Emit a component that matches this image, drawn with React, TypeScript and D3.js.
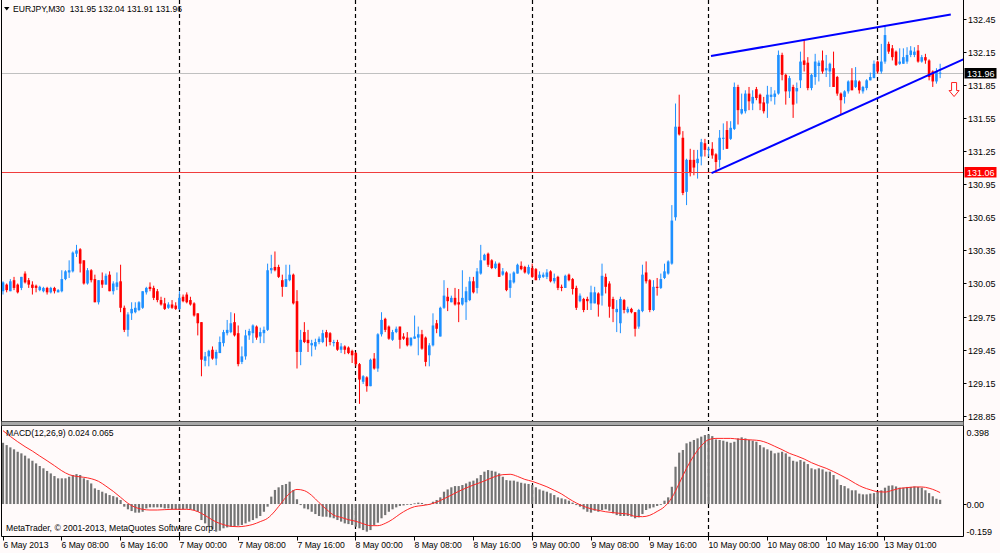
import React from "react";
import * as d3 from "d3";

type OHLC = [number, number, number, number];

// ---- price data (open, high, low, close), EURJPY M30 ----
const candles6May: OHLC[] = [
  [129.98,130.07,129.95,130.06],[130.04,130.05,129.97,129.99],[129.98,130.09,129.98,130.07],[130.08,130.11,129.99,130.01],
  [130.04,130.05,129.96,129.97],[130.01,130.11,129.99,130.11],[130.14,130.16,130.05,130.06],[130.08,130.10,130.01,130.04],
  [130.04,130.07,129.95,130.01],[130.03,130.04,129.97,130.01],[129.99,130.03,129.98,130.02],[129.98,130.02,129.97,130.01],
  [130.01,130.02,129.95,129.97],[129.97,130.02,129.96,130.01],[130.01,130.02,129.96,129.98],[129.97,130.00,129.97,129.99],
  [129.98,130.17,129.97,130.09],[130.09,130.17,130.08,130.16],[130.15,130.26,130.10,130.17],[130.16,130.34,130.15,130.33],
  [130.32,130.40,130.29,130.35],[130.36,130.37,130.15,130.23],[130.26,130.26,130.04,130.05],[130.05,130.19,130.04,130.17],
  [130.17,130.18,130.06,130.08],[130.09,130.13,129.88,129.88],[129.88,130.08,129.86,130.08],[130.08,130.15,130.01,130.04],
  [130.04,130.14,130.04,130.12],[130.13,130.16,129.98,129.98],[129.98,130.07,129.95,130.05],[130.02,130.15,129.99,130.06],
  [130.07,130.22,129.79,129.83],[129.83,129.85,129.61,129.63],[129.63,129.79,129.57,129.77],[129.78,129.88,129.72,129.82],
  [129.79,129.88,129.78,129.83],[129.81,129.89,129.80,129.88],[129.83,129.98,129.82,129.98],[129.97,130.02,129.95,130.01],
  [130.02,130.06,129.98,130.00],[130.01,130.03,129.90,129.92],[129.98,130.00,129.88,129.90],[129.90,129.93,129.85,129.86],
  [129.87,129.92,129.81,129.82],[129.83,129.88,129.82,129.86],[129.86,129.90,129.82,129.83],[129.85,129.88,129.81,129.82],
];
const candles7May: OHLC[] = [
  [129.82,129.98,129.81,129.92],[129.93,129.95,129.88,129.89],[129.95,129.97,129.87,129.88],[129.90,129.93,129.85,129.86],
  [129.87,129.88,129.75,129.76],[129.78,129.78,129.58,129.69],[129.70,129.70,129.21,129.36],[129.35,129.43,129.30,129.39],
  [129.39,129.45,129.30,129.44],[129.45,129.48,129.36,129.37],[129.37,129.45,129.31,129.43],[129.42,129.57,129.42,129.52],
  [129.51,129.63,129.48,129.61],[129.60,129.72,129.58,129.63],[129.61,129.79,129.60,129.69],[129.70,129.78,129.57,129.58],
  [129.60,129.67,129.30,129.32],[129.34,129.48,129.32,129.39],[129.39,129.63,129.36,129.58],[129.58,129.64,129.54,129.62],
  [129.60,129.68,129.51,129.67],[129.66,129.67,129.54,129.56],[129.57,129.65,129.51,129.61],[129.60,129.66,129.51,129.63],
  [129.63,130.23,129.62,130.17],[130.17,130.31,130.14,130.19],[130.20,130.34,130.16,130.17],[130.20,130.22,130.10,130.11],
  [130.08,130.13,129.93,130.02],[130.02,130.22,130.02,130.09],[130.08,130.22,130.07,130.13],[130.13,130.14,129.86,129.87],
  [129.89,129.99,129.28,129.43],[129.43,129.63,129.31,129.54],[129.61,129.70,129.51,129.52],[129.54,129.63,129.43,129.51],
  [129.49,129.54,129.39,129.51],[129.48,129.55,129.45,129.52],[129.52,129.57,129.50,129.55],[129.52,129.63,129.51,129.60],
  [129.61,129.63,129.48,129.56],[129.60,129.61,129.49,129.52],[129.51,129.54,129.48,129.52],[129.52,129.54,129.44,129.45],
  [129.45,129.51,129.42,129.48],[129.48,129.49,129.41,129.45],[129.47,129.48,129.41,129.42],[129.44,129.45,129.33,129.40],
];
const candles8May: OHLC[] = [
  [129.42,129.43,129.30,129.32],[129.32,129.33,128.96,129.18],[129.16,129.22,129.14,129.21],[129.20,129.21,129.07,129.12],
  [129.12,129.37,129.12,129.36],[129.37,129.42,129.27,129.28],[129.28,129.60,129.25,129.59],[129.59,129.79,129.57,129.72],
  [129.73,129.74,129.61,129.63],[129.66,129.67,129.54,129.55],[129.54,129.63,129.53,129.61],[129.61,129.66,129.60,129.64],
  [129.66,129.66,129.46,129.54],[129.57,129.60,129.54,129.55],[129.56,129.61,129.48,129.49],[129.49,129.56,129.48,129.56],
  [129.55,129.76,129.55,129.57],[129.56,129.66,129.40,129.59],[129.59,129.63,129.45,129.46],[129.56,129.57,129.30,129.34],
  [129.40,129.51,129.30,129.49],[129.49,129.78,129.48,129.67],[129.69,129.72,129.60,129.64],[129.57,129.84,129.57,129.83],
  [129.83,130.08,129.82,129.94],[129.93,130.01,129.80,129.89],[129.88,129.94,129.88,129.92],[129.92,130.01,129.85,129.86],
  [129.88,130.00,129.70,129.86],[129.86,130.17,129.85,129.92],[129.88,130.02,129.72,129.98],[129.90,130.11,129.89,130.07],
  [130.07,130.11,129.96,129.97],[130.01,130.19,129.96,130.16],[130.14,130.40,130.13,130.26],[130.26,130.32,130.26,130.31],
  [130.32,130.33,130.20,130.22],[130.26,130.27,130.18,130.19],[130.19,130.25,130.18,130.23],[130.23,130.24,130.11,130.11],
  [130.13,130.19,130.12,130.16],[130.15,130.16,129.98,129.99],[130.01,130.14,129.92,130.08],[130.06,130.16,130.05,130.15],
  [130.14,130.23,130.14,130.22],[130.21,130.25,130.17,130.18],[130.20,130.21,130.14,130.15],[130.14,130.22,130.13,130.20],
];
const candles9May: OHLC[] = [
  [130.19,130.23,130.10,130.11],[130.18,130.19,130.08,130.08],[130.10,130.16,130.08,130.13],[130.11,130.15,130.10,130.13],
  [130.11,130.18,130.09,130.15],[130.16,130.17,130.06,130.07],[130.07,130.14,130.05,130.10],[130.11,130.12,129.99,130.01],
  [130.02,130.04,129.98,130.01],[130.01,130.13,130.01,130.12],[130.13,130.14,130.07,130.08],[130.09,130.10,129.95,130.00],
  [130.01,130.03,129.81,129.83],[129.89,129.96,129.88,129.94],[129.91,129.92,129.79,129.81],[129.91,129.93,129.81,129.89],
  [129.87,130.03,129.81,129.97],[129.87,130.02,129.87,129.97],[129.96,129.97,129.75,129.86],[129.94,130.23,129.85,130.12],
  [130.11,130.14,129.96,130.02],[130.05,130.07,129.74,129.84],[129.91,129.93,129.70,129.82],[129.79,129.90,129.61,129.82],
  [129.69,129.93,129.60,129.91],[129.90,129.91,129.78,129.81],[129.79,129.84,129.78,129.82],[129.82,129.83,129.78,129.79],
  [129.79,129.79,129.57,129.64],[129.66,129.82,129.64,129.81],[129.80,130.22,129.79,130.13],[130.15,130.25,130.05,130.07],
  [130.08,130.09,129.79,129.81],[129.81,130.08,129.80,130.02],[130.02,130.10,129.94,130.01],[130.01,130.14,130.00,130.09],
  [130.10,130.23,130.09,130.16],[130.14,130.26,130.13,130.25],[130.23,130.76,130.22,130.62],[130.65,131.68,130.62,131.47],
  [131.47,131.76,131.39,131.40],[131.37,131.43,130.85,130.87],[130.88,131.18,130.76,131.17],[131.17,131.27,131.02,131.05],
  [131.17,131.26,131.03,131.10],[131.14,131.26,131.00,131.18],[131.20,131.36,131.12,131.33],[131.32,131.36,131.20,131.26],
];
const candles10May: OHLC[] = [
  [131.26,131.29,131.20,131.27],[131.27,131.33,131.18,131.21],[131.22,131.23,131.05,131.15],[131.17,131.44,131.10,131.37],
  [131.36,131.50,131.26,131.37],[131.44,131.52,131.27,131.27],[131.36,131.52,131.35,131.46],[131.45,131.87,131.44,131.83],
  [131.83,131.85,131.49,131.62],[131.59,131.77,131.58,131.63],[131.61,131.80,131.59,131.77],[131.77,131.83,131.62,131.70],
  [131.68,131.80,131.62,131.74],[131.81,131.83,131.71,131.73],[131.76,131.77,131.62,131.68],[131.69,131.74,131.59,131.61],
  [131.68,131.84,131.55,131.76],[131.74,131.83,131.70,131.76],[131.74,131.80,131.67,131.77],[131.77,132.16,131.76,132.12],
  [132.12,132.14,131.89,131.94],[131.94,131.95,131.67,131.79],[131.79,131.93,131.73,131.91],[131.83,131.85,131.55,131.67],
  [131.79,131.87,131.68,131.82],[131.89,132.15,131.82,132.06],[132.07,132.26,131.97,132.03],[132.05,132.10,131.80,131.82],
  [131.82,131.95,131.80,131.94],[131.92,132.13,131.85,132.06],[132.02,132.07,131.88,132.05],[132.07,132.16,131.95,131.97],
  [131.98,132.12,131.92,132.00],[131.97,132.05,131.83,132.04],[132.00,132.15,131.83,131.83],[131.92,131.93,131.75,131.77],
  [131.77,131.78,131.58,131.71],[131.74,131.80,131.68,131.79],[131.79,131.89,131.77,131.88],[131.89,132.00,131.80,131.80],
  [131.83,132.01,131.82,131.89],[131.88,131.89,131.77,131.80],[131.79,131.84,131.77,131.83],[131.82,131.90,131.80,131.89],
  [131.89,131.96,131.89,131.92],[131.91,132.07,131.91,132.04],
];
const candles13May: OHLC[] = [
  [132.06,132.07,131.95,131.97],[131.97,132.22,131.95,132.06],[132.06,132.38,132.04,132.30],[132.22,132.24,132.13,132.15],
  [132.18,132.21,132.07,132.10],[132.15,132.16,132.02,132.03],[132.04,132.18,132.03,132.06],[132.04,132.18,132.04,132.10],
  [132.06,132.19,132.04,132.12],[132.12,132.20,132.10,132.16],[132.12,132.19,132.10,132.15],[132.16,132.21,132.05,132.06],
  [132.06,132.12,132.05,132.10],[132.10,132.13,132.04,132.07],[132.07,132.08,131.89,131.92],[131.97,131.98,131.83,131.88],
  [131.88,132.00,131.86,131.97],[131.95,132.04,131.91,131.96],
];

// ---- MACD(12,26,9) main values (histogram) ----
const macd6May = [
  0.348,0.335,0.322,0.311,0.297,0.288,0.275,0.259,0.246,0.231,0.216,0.203,0.188,0.174,0.159,0.146,
  0.146,0.146,0.155,0.165,0.170,0.165,0.146,0.136,0.117,0.089,0.080,0.070,0.061,0.051,0.045,0.038,
  0.023,-0.015,-0.030,-0.040,-0.049,-0.049,-0.044,-0.025,-0.019,-0.019,-0.019,-0.019,-0.025,-0.025,-0.030,-0.030,
];
const macd7May = [
  -0.034,-0.030,-0.027,-0.030,-0.034,-0.044,-0.091,-0.110,-0.129,-0.144,-0.157,-0.152,-0.138,-0.133,-0.129,-0.125,
  -0.123,-0.119,-0.110,-0.100,-0.091,-0.081,-0.068,-0.044,-0.015,0.042,0.080,0.095,0.108,0.114,0.127,0.080,
  0.027,-0.006,-0.025,-0.030,-0.044,-0.057,-0.068,-0.072,-0.072,-0.076,-0.081,-0.091,-0.100,-0.110,-0.114,-0.119,
];
const macd8May = [
  -0.129,-0.138,-0.148,-0.157,-0.148,-0.119,-0.106,-0.081,-0.063,-0.044,-0.030,-0.019,-0.011,-0.008,-0.004,0.000,
  0.004,0.008,0.006,-0.002,-0.004,0.013,0.023,0.038,0.070,0.083,0.095,0.102,0.102,0.108,0.117,0.127,
  0.133,0.146,0.165,0.184,0.193,0.189,0.184,0.174,0.155,0.136,0.133,0.133,0.127,0.121,0.117,0.114,
];
const macd9May = [
  0.108,0.095,0.083,0.076,0.070,0.061,0.051,0.038,0.032,0.027,0.019,0.008,-0.006,-0.015,-0.030,-0.044,
  -0.049,-0.038,-0.044,-0.034,-0.030,-0.038,-0.053,-0.063,-0.068,-0.068,-0.068,-0.072,-0.081,-0.076,-0.057,-0.034,
  -0.025,-0.019,-0.011,0.000,0.019,0.038,0.098,0.212,0.292,0.307,0.345,0.354,0.364,0.373,0.383,0.392,
];
const macd10May = [
  0.396,0.386,0.367,0.364,0.360,0.354,0.348,0.354,0.373,0.379,0.373,0.364,0.360,0.354,0.335,0.322,
  0.311,0.303,0.288,0.292,0.297,0.288,0.269,0.246,0.241,0.250,0.241,0.227,0.203,0.197,0.203,0.197,
  0.184,0.184,0.165,0.140,0.108,0.102,0.089,0.078,0.078,0.059,0.055,0.055,0.059,0.062,
];
const macd13May = [
  0.068,0.078,0.093,0.104,0.106,0.100,0.093,0.093,0.097,0.097,0.100,0.097,0.093,0.078,0.062,0.044,0.030,0.024,
];

// ---- MACD signal line, read at [bar index, value] ----
const signalPoints: [number, number][] = [
  [0,0.417],[2,0.384],[4,0.354],[6,0.326],[8,0.301],[10,0.273],[12,0.246],[14,0.218],[16,0.189],[18,0.167],
  [20,0.157],[22,0.152],[24,0.144],[26,0.129],[28,0.102],[30,0.072],[32,0.038],[34,0.004],[36,-0.019],[38,-0.030],
  [40,-0.034],[42,-0.034],[44,-0.032],[46,-0.030],[48,-0.030],[50,-0.030],[52,-0.036],[54,-0.053],[56,-0.078],[58,-0.102],
  [60,-0.117],[62,-0.127],[64,-0.129],[66,-0.125],[68,-0.116],[70,-0.100],[72,-0.081],[74,-0.040],[76,0.013],[78,0.061],
  [80,0.083],[82,0.076],[84,0.049],[86,0.008],[88,-0.030],[90,-0.063],[92,-0.076],[94,-0.089],[96,-0.098],[98,-0.112],
  [100,-0.123],[102,-0.123],[104,-0.110],[106,-0.087],[108,-0.057],[110,-0.032],[112,-0.015],[114,-0.009],[116,-0.002],[118,0.011],
  [120,0.030],[122,0.051],[124,0.072],[126,0.091],[128,0.108],[130,0.123],[132,0.140],[134,0.157],[136,0.167],[138,0.169],
  [140,0.157],[142,0.140],[144,0.129],[146,0.114],[148,0.098],[150,0.078],[152,0.057],[154,0.030],[156,0.006],[158,-0.013],
  [160,-0.027],[162,-0.036],[164,-0.044],[166,-0.049],[168,-0.053],[170,-0.057],[172,-0.070],[174,-0.072],[176,-0.064],[178,-0.042],
  [180,-0.015],[182,0.036],[184,0.117],[186,0.203],[188,0.275],[190,0.331],[192,0.366],[194,0.373],[196,0.373],[198,0.373],
  [200,0.369],[202,0.366],[204,0.364],[206,0.360],[208,0.347],[210,0.328],[212,0.309],[214,0.288],[216,0.273],[218,0.256],
  [220,0.235],[222,0.218],[224,0.203],[226,0.184],[228,0.163],[230,0.141],[232,0.116],[234,0.095],[236,0.081],[238,0.070],
  [240,0.068],[242,0.078],[244,0.089],[246,0.093],[248,0.097],[250,0.097],[252,0.090],[254,0.075],[255,0.065],
];

// ---- axes ----
const timeLabels: [number, string][] = [
  [0,"6 May 2013"],[16,"6 May 08:00"],[32,"6 May 16:00"],[48,"7 May 00:00"],[64,"7 May 08:00"],[80,"7 May 16:00"],
  [96,"8 May 00:00"],[112,"8 May 08:00"],[128,"8 May 16:00"],[144,"9 May 00:00"],[160,"9 May 08:00"],[176,"9 May 16:00"],
  [192,"10 May 00:00"],[208,"10 May 08:00"],[224,"10 May 16:00"],[240,"13 May 01:00"],
];
const daySeparators = [48, 96, 144, 192, 238];
const priceTicks = [132.45,132.15,131.85,131.55,131.25,130.95,130.65,130.35,130.05,129.75,129.45,129.15,128.85];
const macdTicks: [number, string][] = [[0.398,"0.398"],[0,"0.00"],[-0.159,"-0.159"]];

// ---- objects ----
const bidPrice = 131.96;
const levelPrice = 131.06;
const upperTrend: [number, number][] = [[192.65, 132.11],[257.9, 132.486]];
const lowerTrend: [number, number][] = [[192.8, 131.05],[261.3, 132.08]];
const arrowAnchor: [number, number] = [258.8, 131.87];
const headerText = "EURJPY,M30  131.95 132.04 131.91 131.96";
const macdLabel = "MACD(12,26,9) 0.024 0.065";
const copyrightText = "MetaTrader, \u00a9 2001-2013, MetaQuotes Software Corp.";

const BLUE = "#1E90FF";
const RED = "#FF0000";
const BG = "#FFFAFA";

export default function App() {
  const candles = [...candles6May, ...candles7May, ...candles8May, ...candles9May, ...candles10May, ...candles13May];
  const macd = [...macd6May, ...macd7May, ...macd8May, ...macd9May, ...macd10May, ...macd13May];

  const W = 1000, H = 553;
  const L = 1.5, R = 963.5, mainBottom = 421.5, subTop = 425.5, subBottom = 536.5;

  const x = d3.scaleLinear().domain([0, 255]).range([3, 3 + 255 * 3.675]);
  const y = d3.scaleLinear().domain([128.85, 132.45]).range([416, 18.5]);
  const ym = d3.scaleLinear().domain([-0.159, 0.398]).range([532, 434]);

  const signalPath = d3.line<[number, number]>()
    .x(d => x(d[0])).y(d => ym(d[1])).curve(d3.curveMonotoneX)(signalPoints) || "";
  const trendPath = (t: [number, number][]) =>
    d3.line<[number, number]>().x(d => x(d[0])).y(d => y(d[1]))(t) || "";

  const font = "'Liberation Sans', Arial, sans-serif";
  const ax = x(arrowAnchor[0]), ay = y(arrowAnchor[1]);
  const arrowPath = `M${ax - 2.5},${ay} L${ax + 2.5},${ay} L${ax + 2.5},${ay + 8} L${ax + 5},${ay + 8} L${ax},${ay + 14} L${ax - 5},${ay + 8} L${ax - 2.5},${ay + 8} Z`;

  return (
    <div style={{ position: "absolute", left: 0, top: 0, width: W, height: H }}>
      <style>{`body{margin:0}`}</style>
      <svg width={W} height={H} style={{ display: "block" }} fontFamily={font}>
        <defs>
          <clipPath id="mainClip"><rect x={2} y={0} width={R - 2} height={mainBottom} /></clipPath>
          <clipPath id="subClip"><rect x={2} y={subTop} width={R - 2} height={subBottom - subTop} /></clipPath>
        </defs>
        <rect x={0} y={0} width={W} height={H} fill={BG} />

        {/* period separators */}
        {daySeparators.map(b => (
          <line key={b} x1={Math.floor(x(b)) + 0.5} x2={Math.floor(x(b)) + 0.5} y1={0} y2={subBottom}
            stroke="#000" strokeWidth={1.2} strokeDasharray="4,3" />
        ))}

        <g clipPath="url(#mainClip)">
          {/* bid line */}
          <line x1={L} x2={R} y1={Math.round(y(bidPrice)) + 0.5} y2={Math.round(y(bidPrice)) + 0.5} stroke="#C0C0C0" strokeWidth={1} />
          {/* candles */}
          {candles.map((c, i) => {
            const [o, h, l, cl] = c;
            const up = cl >= o;
            const col = up ? BLUE : RED;
            const cx = x(i);
            const top = y(Math.max(o, cl));
            const bot = y(Math.min(o, cl));
            return (
              <g key={i}>
                <line x1={cx} x2={cx} y1={y(h)} y2={y(l)} stroke={col} strokeWidth={1} />
                <rect x={cx - 1.3} y={top} width={2.6} height={Math.max(1, bot - top)} fill={col} />
              </g>
            );
          })}
          {/* horizontal level */}
          <line x1={L} x2={R} y1={Math.round(y(levelPrice)) + 0.5} y2={Math.round(y(levelPrice)) + 0.5} stroke="#F03C3C" strokeWidth={1} />
          {/* trend lines */}
          <path d={trendPath(upperTrend)} stroke="#0000FF" strokeWidth={2} fill="none" />
          <path d={trendPath(lowerTrend)} stroke="#0000FF" strokeWidth={2} fill="none" />
          {/* sell arrow */}
          <path d={arrowPath} fill="#FFFFFF" stroke="#FF2020" strokeWidth={1} />
        </g>

        {/* header */}
        <path d="M4,7 L9.5,7 L6.75,10.5 Z" fill="#000" />
        <text x={13} y={12} fontSize={8.6} fill="#000" style={{ whiteSpace: "pre" }}>{headerText}</text>

        {/* MACD subwindow */}
        <g clipPath="url(#subClip)">
          {macd.map((v, i) => {
            const y0 = ym(0), y1 = ym(v);
            return <rect key={i} x={x(i) - 1.1} y={Math.min(y0, y1)} width={2.2} height={Math.max(0.8, Math.abs(y1 - y0))} fill="#747474" />;
          })}
          <path d={signalPath} stroke="#FF2828" strokeWidth={1} fill="none" />
        </g>
        <text x={6} y={436} fontSize={8.6} fill="#000">{macdLabel}</text>
        <text x={6} y={530.5} fontSize={8.6} fill="#000">{copyrightText}</text>

        {/* frame */}
        <line x1={L} x2={L} y1={0} y2={subBottom} stroke="#000" strokeWidth={1} />
        <line x1={R} x2={R} y1={0} y2={subBottom} stroke="#000" strokeWidth={1} />
        <line x1={L} x2={R} y1={subBottom} y2={subBottom} stroke="#000" strokeWidth={1} />
        <rect x={L} y={mainBottom} width={R - L} height={subTop - mainBottom} fill="#A8A8A8" />
        <line x1={L} x2={R} y1={mainBottom} y2={mainBottom} stroke="#505050" strokeWidth={1} />
        <line x1={L} x2={R} y1={subTop} y2={subTop} stroke="#505050" strokeWidth={1} />

        {/* price axis */}
        {priceTicks.map(p => {
          const py = Math.round(y(p)) + 0.5;
          return (
            <g key={p}>
              <line x1={R} x2={R + 3} y1={py} y2={py} stroke="#000" />
              <text x={968} y={py + 3.2} fontSize={9} fill="#000">{p.toFixed(2)}</text>
            </g>
          );
        })}
        {/* level and bid labels */}
        <rect x={964.5} y={Math.round(y(levelPrice)) - 5} width={32} height={10.5} fill="#FF0000" />
        <text x={967} y={Math.round(y(levelPrice)) + 3.7} fontSize={9} fill="#FFFFFF">{levelPrice.toFixed(2)}</text>
        <rect x={964.5} y={Math.round(y(bidPrice)) - 5} width={32} height={10.5} fill="#000000" />
        <text x={967} y={Math.round(y(bidPrice)) + 3.7} fontSize={9} fill="#FFFFFF">{bidPrice.toFixed(2)}</text>

        {/* MACD axis */}
        {macdTicks.map(([v, s], k) => {
          const py = Math.round(ym(v)) + 0.5;
          const base = k === 0 ? py + 1 : k === 2 ? py + 2 : py + 3.2;
          return (
            <g key={s}>
              {v === 0 && <line x1={R} x2={R + 3} y1={py} y2={py} stroke="#000" />}
              <text x={966.5} y={base} fontSize={9} fill="#000">{s}</text>
            </g>
          );
        })}

        {/* time axis */}
        {timeLabels.map(([b, s]) => {
          const tx = Math.floor(x(b)) + 0.5;
          return (
            <g key={b}>
              <line x1={tx} x2={tx} y1={subBottom} y2={subBottom + 4} stroke="#000" />
              <text x={tx} y={548} fontSize={8.6} fill="#000">{s}</text>
            </g>
          );
        })}
      </svg>
    </div>
  );
}
